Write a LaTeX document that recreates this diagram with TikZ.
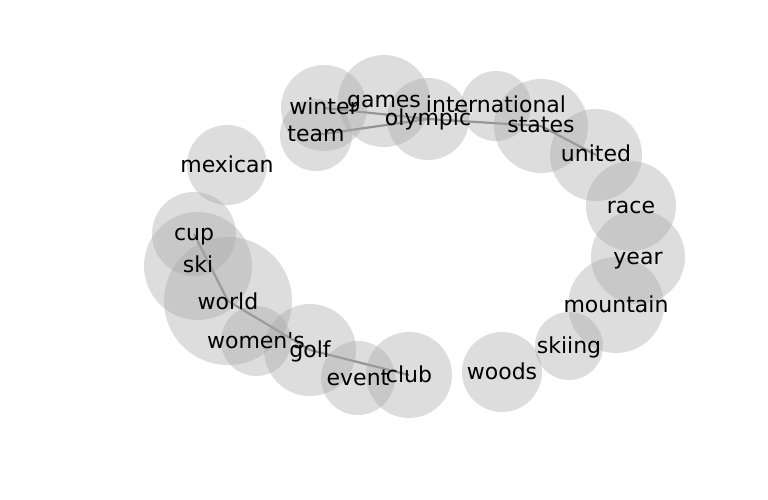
\documentclass[tikz,border=0pt]{standalone}
\usepackage{fontspec}
\setmainfont{DejaVu Sans}
\usetikzlibrary{backgrounds}
\definecolor{bubblec}{gray}{0.65}
\definecolor{edgec}{gray}{0.55}
\tikzset{
  bub/.style={circle, inner sep=0pt, draw=none, fill=bubblec, fill opacity=0.38, minimum size=#1},
  lab/.style={anchor=base, inner sep=0pt, text=black, font=\fontsize{22}{26}\selectfont},
  edgeline/.style={draw=edgec, line width=2.2pt}
}
\begin{document}
\begin{tikzpicture}[x=1pt,y=-1pt]
\useasboundingbox (0,0) rectangle (768,500);
% bubbles (diameter = 2r)
\node[bub=86pt] (winter) at (324,108) {};
\node[bub=72pt] (team) at (316,135) {};
\node[bub=92pt] (games) at (384,101) {};
\node[bub=82pt] (olympic) at (428,119) {};
\node[bub=70pt] (international) at (496,106) {};
\node[bub=94pt] (states) at (541,126) {};
\node[bub=92pt] (united) at (596,155) {};
\node[bub=90pt] (race) at (631,206) {};
\node[bub=94pt] (year) at (638,257) {};
\node[bub=96pt] (mountain) at (616,305) {};
\node[bub=68pt] (skiing) at (569,346) {};
\node[bub=80pt] (woods) at (502,372) {};
\node[bub=86pt] (club) at (409,375) {};
\node[bub=74pt] (event) at (358,378) {};
\node[bub=92pt] (golf) at (310,350) {};
\node[bub=70pt] (womens) at (256,341) {};
\node[bub=128pt] (world) at (228,301) {};
\node[bub=108pt] (ski) at (198,266) {};
\node[bub=84pt] (cup) at (194,234) {};
\node[bub=80pt] (mexican) at (227,165) {};
% edges under the bubbles
\begin{pgfonlayer}{background}
\draw[edgeline] (team.center) -- (olympic.center);
\draw[edgeline] (winter.center) -- (olympic.center);
\draw[edgeline] (olympic.center) -- (states.center);
\draw[edgeline] (states.center) -- (united.center);
\draw[edgeline] (cup.center) -- (world.center);
\draw[edgeline] (world.center) -- (golf.center);
\draw[edgeline] (golf.center) -- (club.center);
\end{pgfonlayer}
% labels
\node[lab] (l-winter) at (324,115) {winter};
\node[lab] (l-team) at (316,141.5) {team};
\node[lab] (l-games) at (384,107.5) {games};
\node[lab] (l-olympic) at (428,125) {olympic};
\node[lab] (l-international) at (496,113) {international};
\node[lab] (l-states) at (541,132.5) {states};
\node[lab] (l-united) at (596,161.5) {united};
\node[lab] (l-race) at (631,213.5) {race};
\node[lab] (l-year) at (638,264) {year};
\node[lab] (l-mountain) at (616,312.5) {mountain};
\node[lab] (l-skiing) at (569,353.5) {skiing};
\node[lab] (l-woods) at (502,379.5) {woods};
\node[lab] (l-club) at (409,382.5) {club};
\node[lab] (l-event) at (358,385) {event};
\node[lab] (l-golf) at (310,357) {golf};
\node[lab] (l-womens) at (256,348) {women\textquotesingle s};
\node[lab] (l-world) at (228,309) {world};
\node[lab] (l-ski) at (198,272.5) {ski};
\node[lab] (l-cup) at (194,240.5) {cup};
\node[lab] (l-mexican) at (227,172.5) {mexican};
\end{tikzpicture}
\end{document}
